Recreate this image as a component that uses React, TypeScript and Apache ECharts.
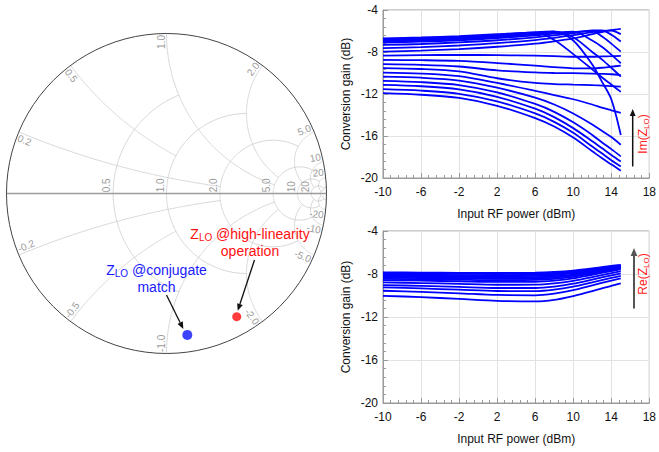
import React, { useEffect, useRef } from "react";
import * as echarts from "echarts";

const FONT = "'Liberation Sans', Arial, sans-serif";

// ---------- Smith chart ----------
const smithRCircles = [0.5, 1, 2, 5, 10, 20, 50];
const smithRReach = [1, 2, 5, 10, 20, 50, 50];
const smithXArcs = [0.2, 0.5, 1, 2, 5, 10, 20, 50];
const smithXReach = [2, 1, 5, 5, 10, 20, 50, 50];
const smithRLabelValues = [0.5, 1, 2, 5, 10, 20];
const smithRLabels = ["0.5", "1.0", "2.0", "5.0", "10", "20"];
const smithXLabelValues = [0.2, 0.5, 1, 2, 5, 10, 20];
const smithXLabelsPos = ["0.2", "0.5", "1.0", "2.0", "5.0", "10", "20"];
const smithXLabelsNeg = ["-0.2", "-0.5", "-1.0", "-2.0", "-5.0", "-10", "-20"];

// Z_LO points as reflection coefficients
const zloNames = ["conjugate match", "high-linearity operation"];
const zloGammaRe = [0.13, 0.439];
const zloGammaIm = [-0.884, -0.77];
const zloColors = ["#0a14ff", "#ff0a0a"];

// ---------- Top chart: gain vs power, Im(Z_LO) sweep ----------
const powerTop = [-10, -6, -2, 2, 6, 8, 10, 12, 13, 14, 15];
const gainTop: number[][] = [
  [-6.7, -6.62, -6.48, -6.3, -6.15, -6.85, -8.2, -9.65, -10.4, -11.1, -11.8],
  [-6.8, -6.72, -6.58, -6.38, -6.12, -6.05, -6.9, -9.2, -10.8, -12.5, -15.9],
  [-6.9, -6.82, -6.68, -6.48, -6.2, -6.05, -6.6, -8.0, -8.7, -9.5, -10.34],
  [-7.0, -6.92, -6.78, -6.58, -6.3, -6.15, -6.05, -6.9, -7.5, -8.25, -9.07],
  [-7.1, -7.02, -6.88, -6.68, -6.42, -6.25, -6.1, -6.0, -6.5, -7.2, -7.96],
  [-7.33, -7.24, -7.08, -6.88, -6.6, -6.42, -6.2, -5.95, -5.95, -6.35, -7.0],
  [-7.64, -7.54, -7.38, -7.16, -6.86, -6.65, -6.4, -6.1, -5.98, -5.95, -6.3],
  [-7.96, -7.87, -7.72, -7.5, -7.2, -6.98, -6.7, -6.3, -6.1, -5.92, -5.8],
  [-8.34, -8.3, -8.28, -8.3, -8.35, -8.4, -8.45, -8.45, -8.42, -8.4, -8.37],
  [-8.75, -8.78, -8.85, -9.05, -9.3, -9.45, -9.55, -9.55, -9.5, -9.4, -9.3],
  [-9.16, -9.22, -9.38, -9.75, -9.95, -10.0, -10.02, -10.05, -10.08, -10.12, -10.2],
  [-9.54, -9.62, -9.85, -10.5, -10.95, -11.05, -11.1, -11.15, -11.2, -11.25, -11.3],
  [-9.96, -10.05, -10.3, -10.95, -11.7, -12.1, -12.5, -13.0, -13.3, -13.55, -13.79],
  [-10.34, -10.45, -10.72, -11.4, -12.35, -13.0, -13.85, -14.9, -15.5, -16.1, -16.83],
  [-10.75, -10.87, -11.15, -11.85, -12.95, -13.7, -14.7, -15.9, -16.6, -17.25, -17.94],
  [-11.13, -11.26, -11.56, -12.27, -13.4, -14.2, -15.25, -16.5, -17.15, -17.8, -18.42],
  [-11.54, -11.68, -11.98, -12.7, -13.85, -14.65, -15.7, -17.0, -17.65, -18.3, -18.9],
  [-11.92, -12.07, -12.37, -13.12, -14.3, -15.1, -16.15, -17.45, -18.1, -18.7, -19.3],
];

// ---------- Bottom chart: gain vs power, Re(Z_LO) sweep ----------
const powerBottom = [-10, -6, -2, 2, 6, 8, 10, 12, 14, 15];
const gainBottom: number[][] = [
  [-10.03, -10.15, -10.32, -10.5, -10.55, -10.4, -10.05, -9.6, -9.1, -8.87],
  [-9.56, -9.66, -9.8, -9.95, -9.98, -9.82, -9.5, -9.05, -8.62, -8.41],
  [-9.25, -9.34, -9.46, -9.58, -9.6, -9.46, -9.18, -8.78, -8.37, -8.17],
  [-9.03, -9.1, -9.2, -9.3, -9.3, -9.17, -8.9, -8.52, -8.13, -7.94],
  [-8.78, -8.84, -8.92, -9.0, -8.99, -8.87, -8.63, -8.28, -7.92, -7.73],
  [-8.57, -8.62, -8.68, -8.74, -8.72, -8.61, -8.4, -8.07, -7.73, -7.54],
  [-8.45, -8.49, -8.54, -8.58, -8.55, -8.45, -8.26, -7.96, -7.64, -7.46],
  [-8.35, -8.38, -8.42, -8.45, -8.42, -8.33, -8.15, -7.87, -7.56, -7.39],
  [-8.25, -8.28, -8.31, -8.33, -8.3, -8.21, -8.05, -7.79, -7.49, -7.33],
  [-8.15, -8.17, -8.2, -8.22, -8.18, -8.1, -7.95, -7.71, -7.42, -7.28],
  [-8.05, -8.07, -8.1, -8.11, -8.07, -8.0, -7.86, -7.63, -7.36, -7.24],
  [-7.95, -7.97, -7.99, -8.0, -7.97, -7.9, -7.77, -7.56, -7.3, -7.2],
  [-7.85, -7.87, -7.89, -7.9, -7.87, -7.81, -7.69, -7.49, -7.25, -7.16],
];

const xMin = -10, xMax = 18, xStep = 4;
const yMin = -20, yMax = -4, yStep = 4;
const xName = "Input RF power (dBm)";
const yName = "Conversion gain (dB)";

function gamma(r: number, x: number): [number, number] {
  const den = (r + 1) * (r + 1) + x * x;
  return [(r * r + x * x - 1) / den, (2 * x) / den];
}

let uid = 0;
function arrow(x1: number, y1: number, x2: number, y2: number, color: string, lw: number, head: number) {
  const ang = Math.atan2(y2 - y1, x2 - x1);
  const hx = x2 - head * Math.cos(ang);
  const hy = y2 - head * Math.sin(ang);
  const w = head * 0.42;
  const nx = -Math.sin(ang), ny = Math.cos(ang);
  return [
    { id: `arr${uid++}`, type: "line", silent: true, z: 20, shape: { x1, y1, x2: hx, y2: hy }, style: { stroke: color, lineWidth: lw } },
    {
      id: `arr${uid++}`, type: "polygon", silent: true, z: 20,
      shape: { points: [[x2, y2], [hx + nx * w, hy + ny * w], [hx - nx * w, hy - ny * w]] },
      style: { fill: color },
    },
  ];
}

function axisPair(gridIndex: number) {
  const common = {
    gridIndex,
    type: "value" as const,
    nameLocation: "middle" as const,
    nameTextStyle: { fontSize: 12, color: "#111", fontFamily: FONT },
    axisLine: { show: true, onZero: false, lineStyle: { color: "#9a9a9a", width: 1 } },
    axisTick: { show: true, inside: true, length: 5, lineStyle: { color: "#9a9a9a" } },
    minorTick: { show: true, splitNumber: 5, length: 3, lineStyle: { color: "#9a9a9a" } },
    axisLabel: { fontSize: 12, color: "#111", fontFamily: FONT },
    splitLine: { show: true, lineStyle: { color: "#e2e2e2", width: 1 } },
  };
  return {
    x: { ...common, min: xMin, max: xMax, interval: xStep, name: xName, nameGap: 30, axisLabel: { ...common.axisLabel, margin: 8 } },
    y: { ...common, min: yMin, max: yMax, interval: yStep, name: yName, nameGap: 31, axisLabel: { ...common.axisLabel, margin: 5 } },
  };
}

export default function App() {
  const ref = useRef<HTMLDivElement>(null);
  useEffect(() => {
    document.body.style.margin = "0";
    const chart = echarts.init(ref.current!, null, { renderer: "svg" });
    const a1 = axisPair(1);
    const a2 = axisPair(2);
    const lineSeries = (curves: number[][], xs: number[], idx: number) =>
      curves.map((c, k) => ({
        type: "line",
        name: `curve${idx}-${k}`,
        xAxisIndex: idx,
        yAxisIndex: idx,
        data: xs.map((p, i) => [p, c[i]]),
        showSymbol: false,
        smooth: 0.3,
        silent: true,
        lineStyle: { color: "#0000ff", width: 1.8 },
        z: 3,
      }));

    const option: any = {
      animation: false,
      backgroundColor: "#ffffff",
      textStyle: { fontFamily: FONT },
      grid: [
        { left: 6.5, top: 33.5, width: 320, height: 320, show: false },
        { left: 383, top: 10, width: 267, height: 168, show: true, borderColor: "#9a9a9a", borderWidth: 1 },
        { left: 383, top: 231, width: 272, height: 172, show: true, borderColor: "#9a9a9a", borderWidth: 1 },
      ],
      xAxis: [
        { gridIndex: 0, type: "value", min: -1, max: 1, show: false, axisLine: { onZero: false } },
        a1.x,
        a2.x,
      ],
      yAxis: [
        { gridIndex: 0, type: "value", min: -1, max: 1, show: false, axisLine: { onZero: false } },
        a1.y,
        a2.y,
      ],
      series: [
        ...zloNames.map((n, i) => ({
          type: "scatter",
          name: n,
          xAxisIndex: 0,
          yAxisIndex: 0,
          data: [[zloGammaRe[i], zloGammaIm[i]]],
          symbolSize: i === 0 ? 10 : 9,
          itemStyle: { color: zloColors[i] },
          silent: true,
          z: 30,
        })),
        ...lineSeries(gainTop, powerTop, 1),
        ...lineSeries(gainBottom, powerBottom, 2),
      ],
    };
    chart.setOption(option);

    // ---- Smith chart grid drawn from the smith grid's scales ----
    const toPx = (g: [number, number]) => chart.convertToPixel({ gridIndex: 0 }, g) as number[];
    const c0 = toPx([0, 0]);
    const c1 = toPx([1, 0]);
    const cx = c0[0], cy = c0[1], R = c1[0] - c0[0];
    const gridColor = "#cdcdcd";
    const els: any[] = [];

    smithRCircles.forEach((r, i) => {
      const L = smithRReach[i];
      const pts: number[][] = [];
      const N = 160;
      for (let k = 0; k <= N; k++) {
        const th = -Math.atan(L) + (2 * Math.atan(L) * k) / N;
        pts.push(toPx(gamma(r, Math.tan(th))));
      }
      els.push({ id: `rc${i}`, type: "polyline", silent: true, z: 1, shape: { points: pts }, style: { stroke: gridColor, lineWidth: 0.8, fill: null } });
    });
    smithXArcs.forEach((x, i) => {
      const L = smithXReach[i];
      [1, -1].forEach((sgn) => {
        const pts: number[][] = [];
        const N = 160;
        for (let k = 0; k <= N; k++) {
          const th = (Math.atan(L) * k) / N;
          pts.push(toPx(gamma(Math.tan(th), sgn * x)));
        }
        els.push({ id: `xa${i}_${sgn}`, type: "polyline", silent: true, z: 1, shape: { points: pts }, style: { stroke: gridColor, lineWidth: 0.8, fill: null } });
      });
    });
    els.push({ id: "realaxis", type: "line", silent: true, z: 2, shape: { x1: cx - R, y1: cy, x2: cx + R, y2: cy }, style: { stroke: "#9c9c9c", lineWidth: 1.4 } });
    els.push({ id: "outer", type: "circle", silent: true, z: 2, shape: { cx, cy, r: R }, style: { stroke: "#444", lineWidth: 1, fill: null } });

    const labelStyle = { fontSize: 10, fill: "#9c9c9c", fontFamily: FONT, align: "center", verticalAlign: "middle" };
    const textLen = (s: string) => s.split("").reduce((a, ch) => a + (ch === "." ? 2.8 : ch === "-" ? 3.3 : 5.6), 0);
    const labelEl = (id: string, x: number, y: number, rotation: number, txt: string) => ({
      id, type: "group", x, y, rotation, z: 50,
      children: [{ type: "text", silent: true, z: 50, x: 0, y: 0, style: { ...labelStyle, text: txt } }],
    });
    smithRLabelValues.forEach((r, i) => {
      const p = toPx(gamma(r, 0));
      const len = textLen(smithRLabels[i]);
      els.push(labelEl(`rl${i}`, p[0] - 6.2, cy - len / 2 - 1.2, Math.PI / 2, smithRLabels[i]));
    });
    smithXLabelValues.forEach((x, i) => {
      [1, -1].forEach((sgn) => {
        const txt = sgn > 0 ? smithXLabelsPos[i] : smithXLabelsNeg[i];
        const g = gamma(0, sgn * x);
        const phi = Math.atan2(g[1], g[0]);
        const b = toPx(g);
        const ux = -Math.cos(phi), uy = Math.sin(phi);
        const tx = sgn > 0 ? -Math.sin(phi) : Math.sin(phi);
        const ty = sgn > 0 ? -Math.cos(phi) : Math.cos(phi);
        const len = textLen(txt);
        const din = len / 2 + 1.5, dt = 5.5;
        let rot = phi;
        if (rot > Math.PI / 2 + 1e-6) rot -= Math.PI;
        if (rot < -Math.PI / 2 + 1e-6) rot += Math.PI;
        els.push(labelEl(`xl${i}_${sgn}`, b[0] + ux * din + tx * dt, b[1] + uy * din + ty * dt, rot, txt));
      });
    });

    // ---- annotations ----
    const pBlue = toPx([zloGammaRe[0], zloGammaIm[0]]);
    const pRed = toPx([zloGammaRe[1], zloGammaIm[1]]);
    const richBase = (color: string) => ({
      a: { fontSize: 14, fill: color, fontFamily: FONT, lineHeight: 17 },
      s: { fontSize: 10, fill: color, fontFamily: FONT, lineHeight: 17, verticalAlign: "bottom" },
    });
    els.push({
      id: "annBlue", type: "text", silent: true, z: 20, x: 156.5, y: 278,
      style: { text: "{a|Z}{s|LO}{a| @conjugate}\n{a|match}", align: "center", verticalAlign: "middle", rich: richBase("#1a1aff") },
    });
    els.push({
      id: "annRed", type: "text", silent: true, z: 20, x: 250, y: 242,
      style: { text: "{a|Z}{s|LO}{a| @high-linearity}\n{a|operation}", align: "center", verticalAlign: "middle", rich: richBase("#ff1010") },
    });
    els.push(...arrow(166.5, 295, pBlue[0] - 4, pBlue[1] - 6, "#111", 1.3, 7));
    els.push(...arrow(254.5, 260, pRed[0] + 1, pRed[1] - 6, "#111", 1.3, 7));

    els.push(...arrow(632.7, 166.5, 632.7, 109, "#111", 1.5, 7));
    const sideRich = {
      a: { fontSize: 12, fill: "#ff2020", fontFamily: FONT, lineHeight: 14 },
      s: { fontSize: 8, fill: "#ff2020", fontFamily: FONT, lineHeight: 14, verticalAlign: "bottom" },
    };
    els.push({
      id: "annIm", type: "text", silent: true, z: 20, x: 643, y: 134, rotation: Math.PI / 2,
      style: { text: "{a|Im(Z}{s|LO}{a|)}", align: "center", verticalAlign: "middle", rich: sideRich },
    });
    els.push(...arrow(634, 308.5, 634, 248, "#555", 2, 8));
    els.push({
      id: "annRe", type: "text", silent: true, z: 20, x: 643, y: 274, rotation: Math.PI / 2,
      style: { text: "{a|Re(Z}{s|LO}{a|)}", align: "center", verticalAlign: "middle", rich: sideRich },
    });

    chart.setOption({ graphic: { elements: els } });
    return () => chart.dispose();
  }, []);
  return <div ref={ref} style={{ width: 659, height: 452 }} />;
}
